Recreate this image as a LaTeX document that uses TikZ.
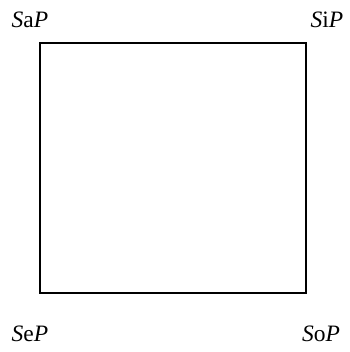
\documentclass[tikz,border=0pt]{standalone}
\usepackage{fontspec}
\setmainfont{Liberation Serif}
\begin{document}
\begin{tikzpicture}[x=1pt,y=-1pt,
  lbl/.style={inner sep=0pt,font=\fontsize{23.5}{26}\selectfont},
  sq/.style={draw=black,line width=1.6pt}]
\useasboundingbox (0,0) rectangle (349,352);
\node[sq,minimum width=266pt,minimum height=250pt,inner sep=0pt] (box) at (173,168) {};
\node[lbl] (a) at (30,20) {\textit{S}a\textit{P}};
\node[lbl] (i) at (327,20) {\textit{S}i\textit{P}};
\node[lbl] (e) at (30,334) {\textit{S}e\textit{P}};
\node[lbl] (o) at (321,334) {\textit{S}o\textit{P}};
\end{tikzpicture}
\end{document}
